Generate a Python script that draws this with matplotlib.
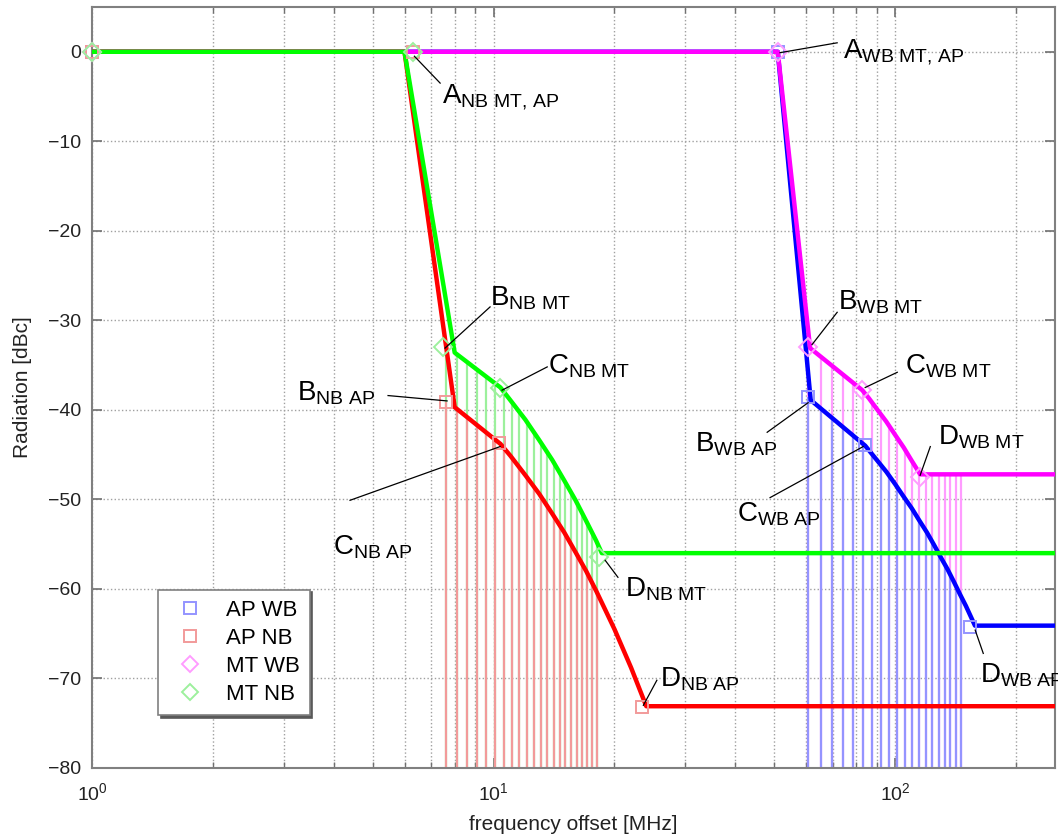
import matplotlib
matplotlib.use('Agg')
import matplotlib.pyplot as plt
from matplotlib.lines import Line2D
from matplotlib.ticker import LogLocator, NullFormatter

plt.rcParams['font.family'] = ['Liberation Sans', 'DejaVu Sans']
plt.rcParams['mathtext.fontset'] = 'custom'
plt.rcParams['mathtext.rm'] = 'Liberation Sans'
plt.rcParams['mathtext.it'] = 'Liberation Sans:italic'
plt.rcParams['mathtext.bf'] = 'Liberation Sans:bold'

# ---- mask curves (frequency offset in MHz, level in dBc) ----
ap_nb_freq = [1, 6.0, 8.0, 10.4, 11, 12, 13, 14, 15, 16, 17, 18, 19, 20, 21, 22, 23, 24.0, 250]
ap_nb_level = [0, 0, -39.7, -43.8, -45.1, -47.3, -49.4, -51.6, -53.7, -55.9, -58.0, -60.2,
               -62.4, -64.5, -66.7, -68.8, -71.0, -73.1, -73.1]

mt_nb_freq = [1, 6.0, 8.0, 10.4, 11, 12, 13, 14, 15, 16, 17, 18, 18.6, 250]
mt_nb_level = [0, 0, -33.6, -37.5, -38.9, -41.1, -43.4, -45.6, -47.9, -50.1, -52.4, -54.6,
               -56.0, -56.0]

ap_wb_freq = [1, 51, 61.6, 84.2, 90, 95, 100, 105, 110, 115, 120, 125, 130, 135, 140, 145,
              150, 158, 250]
ap_wb_level = [0, 0, -38.9, -44.0, -45.6, -46.9, -48.3, -49.7, -51.0, -52.4, -53.7, -55.1,
               -56.5, -57.8, -59.2, -60.6, -61.9, -64.1, -64.1]

mt_wb_freq = [1, 51, 61.4, 82.8, 86, 90, 95, 100, 105, 110, 115.4, 250]
mt_wb_level = [0, 0, -33.1, -37.8, -38.7, -39.9, -41.3, -42.8, -44.2, -45.7, -47.2, -47.2]

# ---- break point markers (1, A, B, C, D) ----
ap_nb_mk_freq = [1, 6.3, 7.6, 10.3, 23.4]
ap_nb_mk_level = [0, 0, -39.1, -43.7, -73.2]
mt_nb_mk_freq = [1, 6.3, 7.5, 10.4, 18.3]
mt_nb_mk_level = [0, 0, -33.0, -37.5, -56.4]
ap_wb_mk_freq = [1, 51.1, 60.7, 84.1, 153.7]
ap_wb_mk_level = [0, 0, -38.6, -43.9, -64.3]
mt_wb_mk_freq = [1, 51.1, 60.7, 82.8, 115.4]
mt_wb_mk_level = [0, 0, -33.0, -37.8, -47.5]

# ---- sampled lines (stems) ----
nb_stem_freq = [7.6, 8.1, 8.6, 9.1, 9.6, 10.1, 10.6, 11.1, 11.6, 12.1, 12.6,
                13.1, 13.6, 14.1, 14.6, 15.1, 15.6, 16.1, 16.6, 17.1, 17.6, 18.1]
ap_nb_stem = [-39.1, -39.9, -40.7, -41.6, -42.4, -43.3, -44.2, -45.3, -46.4, -47.5, -48.6,
              -49.6, -50.7, -51.8, -52.9, -54.0, -55.0, -56.1, -57.2, -58.3, -59.4, -60.4]
mt_nb_stem = [-33.0, -33.8, -34.6, -35.4, -36.2, -37.0, -37.9, -39.1, -40.2, -41.3, -42.5,
              -43.6, -44.7, -45.8, -47.0, -48.1, -49.2, -50.3, -51.5, -52.6, -53.7, -54.8]

wb_stem_freq = [60.7, 65.2, 69.7, 74.2, 78.7, 83.2, 87.7, 92.2, 96.7, 101.2,
                105.7, 110.2, 114.7, 119.2, 123.7, 128.2, 132.7, 137.2, 141.7, 146.2]
ap_wb_stem = [-38.6, -39.7, -40.7, -41.7, -42.8, -43.8, -45.0, -46.2, -47.4, -48.6,
              -49.8, -51.0, -52.3, -53.5, -54.7, -55.9, -57.2, -58.4, -59.6, -60.8]
mt_wb_stem = [-33.0, -33.9, -34.9, -35.9, -36.9, -37.9, -39.2, -40.5, -41.8, -43.1,
              -44.4, -45.7, -47.0, -47.2, -47.2, -47.2, -47.2, -47.2, -47.2, -47.2]

# ---- annotations: label, text anchor (f, dB), leader line from, leader line to ----
labels = [
    (r'A$_\mathrm{NB\ MT,\,AP}$', (7.44, -5.7), (7.36, -3.5), (6.35, -0.5)),
    (r'B$_\mathrm{NB\ MT}$', (9.8, -28.3), (9.8, -28.5), (7.57, -33.1)),
    (r'C$_\mathrm{NB\ MT}$', (13.67, -35.9), (13.6, -35.2), (10.5, -37.8)),
    (r'B$_\mathrm{NB\ AP}$', (3.24, -38.9), (5.46, -38.4), (7.66, -39.0)),
    (r'C$_\mathrm{NB\ AP}$', (3.98, -56.2), (4.39, -50.1), (10.38, -44.1)),
    (r'D$_\mathrm{NB\ MT}$', (21.3, -60.9), (20.4, -58.7), (18.96, -56.8)),
    (r'D$_\mathrm{NB\ AP}$', (26.0, -70.9), (25.5, -70.2), (23.6, -73.0)),
    (r'A$_\mathrm{WB\ MT,\,AP}$', (74.2, -0.7), (71.7, 1.0), (51.7, -0.1)),
    (r'B$_\mathrm{WB\ MT}$', (72.1, -28.8), (71.7, -29.1), (62.1, -32.7)),
    (r'C$_\mathrm{WB\ MT}$', (105.9, -35.9), (101.2, -35.8), (84.2, -37.5)),
    (r'B$_\mathrm{WB\ AP}$', (31.8, -44.7), (48.0, -42.5), (60.7, -39.2)),
    (r'C$_\mathrm{WB\ AP}$', (40.4, -52.5), (48.8, -49.8), (83.2, -44.1)),
    (r'D$_\mathrm{WB\ MT}$', (128.0, -43.9), (122.3, -44.1), (115.4, -47.3)),
    (r'D$_\mathrm{WB\ AP}$', (162.8, -70.4), (165.7, -67.2), (158.2, -64.6)),
]

RED, GREEN, BLUE, MAGENTA = '#ff0000', '#00ff00', '#0000ff', '#ff00ff'
RED_L, GREEN_L, BLUE_L, MAGENTA_L = '#f29a9a', '#9cf09c', '#9494ff', '#ff9cff'

fig = plt.figure(figsize=(10.58, 8.39), dpi=100)
ax = fig.add_axes([92 / 1058, 71 / 839, 963 / 1058, 761 / 839])
ax.set_xscale('log')
ax.set_xlim(1, 250)
ax.set_ylim(-80, 5)

# stems, the light ones first so the AP stems sit on top
ax.vlines(nb_stem_freq, -80, mt_nb_stem, colors=GREEN_L, lw=1.6, zorder=2)
ax.vlines(nb_stem_freq, -80, ap_nb_stem, colors=RED_L, lw=1.6, zorder=2)
ax.vlines(wb_stem_freq, -80, mt_wb_stem, colors=MAGENTA_L, lw=1.6, zorder=2)
ax.vlines(wb_stem_freq, -80, ap_wb_stem, colors=BLUE_L, lw=1.6, zorder=2)

# mask curves
ax.plot(ap_wb_freq, ap_wb_level, color=BLUE, lw=3.2, zorder=3)
ax.plot(mt_wb_freq, mt_wb_level, color=MAGENTA, lw=3.2, zorder=3)
ax.plot(ap_nb_freq, ap_nb_level, color=RED, lw=3.2, zorder=3)
ax.plot(mt_nb_freq, mt_nb_level, color=GREEN, lw=3.2, zorder=3)

# break point markers
mk = dict(ls='none', mfc='none', ms=9, mew=1.4, zorder=4, clip_on=False)
ax.plot(ap_wb_mk_freq, ap_wb_mk_level, marker='s', mec=BLUE_L, **mk)
ax.plot(ap_nb_mk_freq, ap_nb_mk_level, marker='s', mec=RED_L, **mk)
ax.plot(mt_wb_mk_freq, mt_wb_mk_level, marker='D', mec=MAGENTA_L, **mk)
ax.plot(mt_nb_mk_freq, mt_nb_mk_level, marker='D', mec=GREEN_L, **mk)

# annotations
for text, pos, start, end in labels:
    ax.plot([start[0], end[0]], [start[1], end[1]], color='black', lw=0.9, zorder=5)
    ax.text(pos[0], pos[1], text, fontsize=20, color='black', ha='left',
            va='baseline', zorder=6, clip_on=False)

# grid and ticks, matlab style
ax.xaxis.set_major_locator(LogLocator(base=10, numticks=10))
ax.xaxis.set_minor_locator(LogLocator(base=10, subs=range(2, 10), numticks=10))
ax.xaxis.set_minor_formatter(NullFormatter())
ax.set_yticks(range(-80, 1, 10))
ax.grid(True, which='both', axis='x', color='#a0a0a0', ls=':', lw=1.0)
ax.grid(True, which='major', axis='y', color='#a0a0a0', ls=':', lw=1.0)
ax.set_axisbelow(True)
ax.tick_params(which='both', direction='in', top=True, right=True,
               colors='#707070', labelcolor='#222222', labelsize=14)
ax.tick_params(which='major', length=7, width=1.2)
ax.tick_params(which='minor', length=4, width=1.0)
ax.tick_params(axis='y', pad=8)
ax.tick_params(axis='x', pad=10)
for s in ax.spines.values():
    s.set_color('#808080')
    s.set_linewidth(1.5)

ax.set_xlabel('frequency offset [MHz]', fontsize=15, color='#222222')
ax.set_ylabel('Radiation [dBc]', fontsize=15, color='#222222')
ax.xaxis.set_label_coords(0.5, -0.062)
ax.yaxis.set_label_coords(-0.062, 0.5)

handles = [
    Line2D([], [], ls='none', marker='s', mfc='none', mec=BLUE_L, ms=9, mew=1.4),
    Line2D([], [], ls='none', marker='s', mfc='none', mec=RED_L, ms=9, mew=1.4),
    Line2D([], [], ls='none', marker='D', mfc='none', mec=MAGENTA_L, ms=8, mew=1.4),
    Line2D([], [], ls='none', marker='D', mfc='none', mec=GREEN_L, ms=8, mew=1.4),
]
leg = ax.legend(handles, ['AP WB', 'AP NB', 'MT WB', 'MT NB'], loc='lower left',
                bbox_to_anchor=(0.0685, 0.0696), borderaxespad=0, fontsize=16,
                frameon=True, fancybox=False, shadow={'color': '0.35', 'alpha': 1},
                labelspacing=0.32, handletextpad=0.6, borderpad=0.45,
                handlelength=2.0)
leg.get_frame().set_edgecolor('#808080')
leg.get_frame().set_linewidth(1.2)

fig.savefig('out.png', dpi=100)
